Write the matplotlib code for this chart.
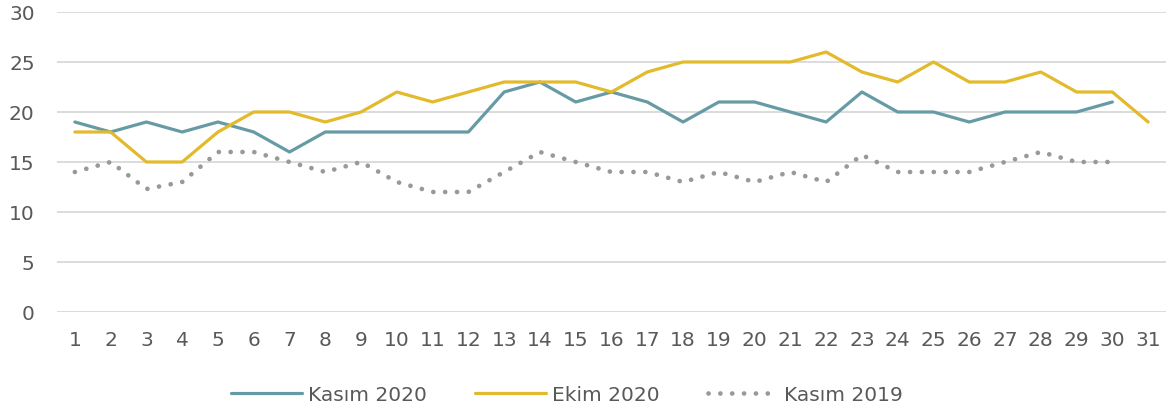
import matplotlib
matplotlib.use("Agg")
import matplotlib.pyplot as plt

days = list(range(1, 32))
kasim_2020 = [19, 18, 19, 18, 19, 18, 16, 18, 18, 18, 18, 18, 22, 23, 21,
              22, 21, 19, 21, 21, 20, 19, 22, 20, 20, 19, 20, 20, 20, 21]
ekim_2020 = [18, 18, 15, 15, 18, 20, 20, 19, 20, 22, 21, 22, 23, 23, 23, 22,
             24, 25, 25, 25, 25, 26, 24, 23, 25, 23, 23, 24, 22, 22, 19]
kasim_2019 = [14, 15, 12.3, 13, 16, 16, 15, 14, 15, 13, 12, 12, 14, 16, 15,
              14, 14, 13, 14, 13, 14, 13, 15.7, 14, 14, 14, 15, 16, 15, 15]

plt.rcParams["font.family"] = ["DejaVu Sans"]
text_color = "#595959"

fig = plt.figure(figsize=(11.72, 4.14), dpi=100)
ax = fig.add_axes([0.0486, 0.244, 0.9463, 0.7246])

ax.plot(days[:len(kasim_2020)], kasim_2020, color="#669BA5", lw=2.3,
        solid_capstyle="round", label="Kasım 2020", zorder=3)
ax.plot(days, ekim_2020, color="#E2BA2C", lw=2.3,
        solid_capstyle="round", label="Ekim 2020", zorder=3)
ax.plot(days[:len(kasim_2019)], kasim_2019, color="#999999", lw=3.4,
        linestyle=(0, (0.01, 2.5)), dash_capstyle="round",
        label="Kasım 2019", zorder=2)

ax.set_xlim(0.5, 31.5)
ax.set_ylim(0, 30)
ax.set_xticks(days)
ax.set_yticks(range(0, 31, 5))
ax.grid(axis="y", color="#D9D9D9", lw=1.3)
ax.set_axisbelow(True)
for s in ax.spines.values():
    s.set_visible(False)
ax.tick_params(length=0, labelsize=14.5, colors=text_color)
ax.tick_params(axis="x", pad=13)
ax.tick_params(axis="y", pad=16)

fig.legend(loc="center", bbox_to_anchor=(0.484, 0.045), ncol=3, frameon=False,
           fontsize=14.5, labelcolor=text_color, handlelength=3.5,
           columnspacing=2.4, handletextpad=0.3)

fig.savefig("out.png", dpi=100)
